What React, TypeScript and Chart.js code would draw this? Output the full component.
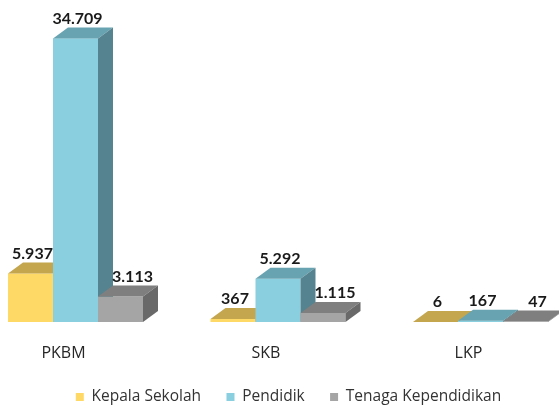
import React, { useEffect, useRef } from 'react';
import { Chart, registerables } from 'chart.js';

Chart.register(...registerables);

const categories = ['PKBM', 'SKB', 'LKP'];
const seriesNames = ['Kepala Sekolah', 'Pendidik', 'Tenaga Kependidikan'];
const kepalaSekolah = [5937, 367, 6];
const pendidik = [34709, 5292, 167];
const tenagaKependidikan = [3113, 1115, 47];

const FRONT = ['#FFD966', '#89CFE0', '#A5A5A5'];
const TOP = ['#C4A64F', '#68A3B1', '#7F7F7F'];
const SIDE = ['#A98E3F', '#55838F', '#696969'];
const LABEL_DX = [2, 2, 12];
const DEPTH_X = 15;
const DEPTH_Y = 11;
const LABEL_FONT = 'Lato, "Open Sans", sans-serif';
const TEXT_FONT = '"Open Sans", Lato, sans-serif';
const LEGEND_GAP = '     ';
const SHIFT = 18;

const fmt = (v: number) => String(v).replace(/\B(?=(\d{3})+(?!\d))/g, '.');

const bar3d = {
  id: 'bar3d',
  beforeDatasetDraw: () => false,
  afterDatasetsDraw(chart: any) {
    const ctx = chart.ctx;
    const n = chart.data.labels.length;
    ctx.save();
    for (let i = 0; i < n; i++) {
      chart.data.datasets.forEach((ds: any, d: number) => {
        const meta = chart.getDatasetMeta(d);
        const el = meta.data[i];
        if (!el) return;
        const { x, y, base, width } = el.getProps(['x', 'y', 'base', 'width'], true);
        const l = x - width / 2;
        const r = x + width / 2;
        ctx.fillStyle = FRONT[d];
        ctx.fillRect(l, y, width, base - y);
        ctx.beginPath();
        ctx.moveTo(l, y);
        ctx.lineTo(l + DEPTH_X, y - DEPTH_Y);
        ctx.lineTo(r + DEPTH_X, y - DEPTH_Y);
        ctx.lineTo(r, y);
        ctx.closePath();
        ctx.fillStyle = TOP[d];
        ctx.fill();
        ctx.beginPath();
        ctx.moveTo(r, y);
        ctx.lineTo(r + DEPTH_X, y - DEPTH_Y);
        ctx.lineTo(r + DEPTH_X, base - DEPTH_Y);
        ctx.lineTo(r, base);
        ctx.closePath();
        ctx.fillStyle = SIDE[d];
        ctx.fill();
        ctx.font = `bold 16px ${LABEL_FONT}`;
        ctx.textAlign = 'center';
        ctx.textBaseline = 'middle';
        ctx.fillStyle = '#1a1a1a';
        ctx.fillText(fmt(ds.data[i]), x + LABEL_DX[d], y - DEPTH_Y - 9);
      });
    }
    ctx.restore();
  },
};

export default function App() {
  const ref = useRef<HTMLCanvasElement | null>(null);
  useEffect(() => {
    if (!ref.current) return;
    const chart = new Chart(ref.current, {
      type: 'bar',
      data: {
        labels: categories,
        datasets: [
          { label: seriesNames[0], data: kepalaSekolah, backgroundColor: FRONT[0] },
          { label: seriesNames[1], data: pendidik, backgroundColor: FRONT[1] },
          { label: seriesNames[2], data: tenagaKependidikan, backgroundColor: FRONT[2] },
        ],
      },
      options: {
        animation: false,
        responsive: true,
        maintainAspectRatio: false,
        layout: { padding: { left: SHIFT, right: 0, top: 36, bottom: -8.75 } },
        datasets: { bar: { categoryPercentage: 135 / 202.5, barPercentage: 1 } },
        scales: {
          x: {
            offset: false,
            grid: { display: false, drawTicks: false },
            border: { display: false },
            ticks: {
              padding: 19.5,
              labelOffset: -12,
              maxRotation: 0,
              color: '#262626',
              font: { family: TEXT_FONT, size: 16, lineHeight: 23 / 16 },
            },
          },
          y: {
            position: 'left',
            min: 0,
            max: 35000,
            grid: { display: false, drawTicks: false },
            border: { display: false },
            ticks: { display: false },
            afterFit: (s: any) => { s.width = 75.5 - SHIFT; },
          },
          y2: {
            position: 'right',
            min: 0,
            max: 1,
            grid: { display: false, drawTicks: false },
            border: { display: false },
            ticks: { display: false },
            afterFit: (s: any) => { s.width = 78.5; },
          },
        },
        plugins: {
          legend: {
            position: 'bottom',
            labels: {
              boxWidth: 8,
              boxHeight: 8,
              padding: 5.25,
              color: '#333333',
              font: { family: TEXT_FONT, size: 15.5 },
              generateLabels: (c: any) => {
                const items = Chart.defaults.plugins.legend.labels.generateLabels(c);
                return items.map((it: any, i: number) => ({
                  ...it,
                  lineWidth: 0,
                  text: i < items.length - 1 ? it.text + LEGEND_GAP : it.text,
                }));
              },
            },
          },
          tooltip: { enabled: false },
        },
      },
      plugins: [bar3d],
    });
    return () => chart.destroy();
  }, []);
  return (
    <div style={{ position: 'fixed', left: 0, top: 0, width: 559, height: 406, background: '#fff' }}>
      <canvas ref={ref} />
    </div>
  );
}
